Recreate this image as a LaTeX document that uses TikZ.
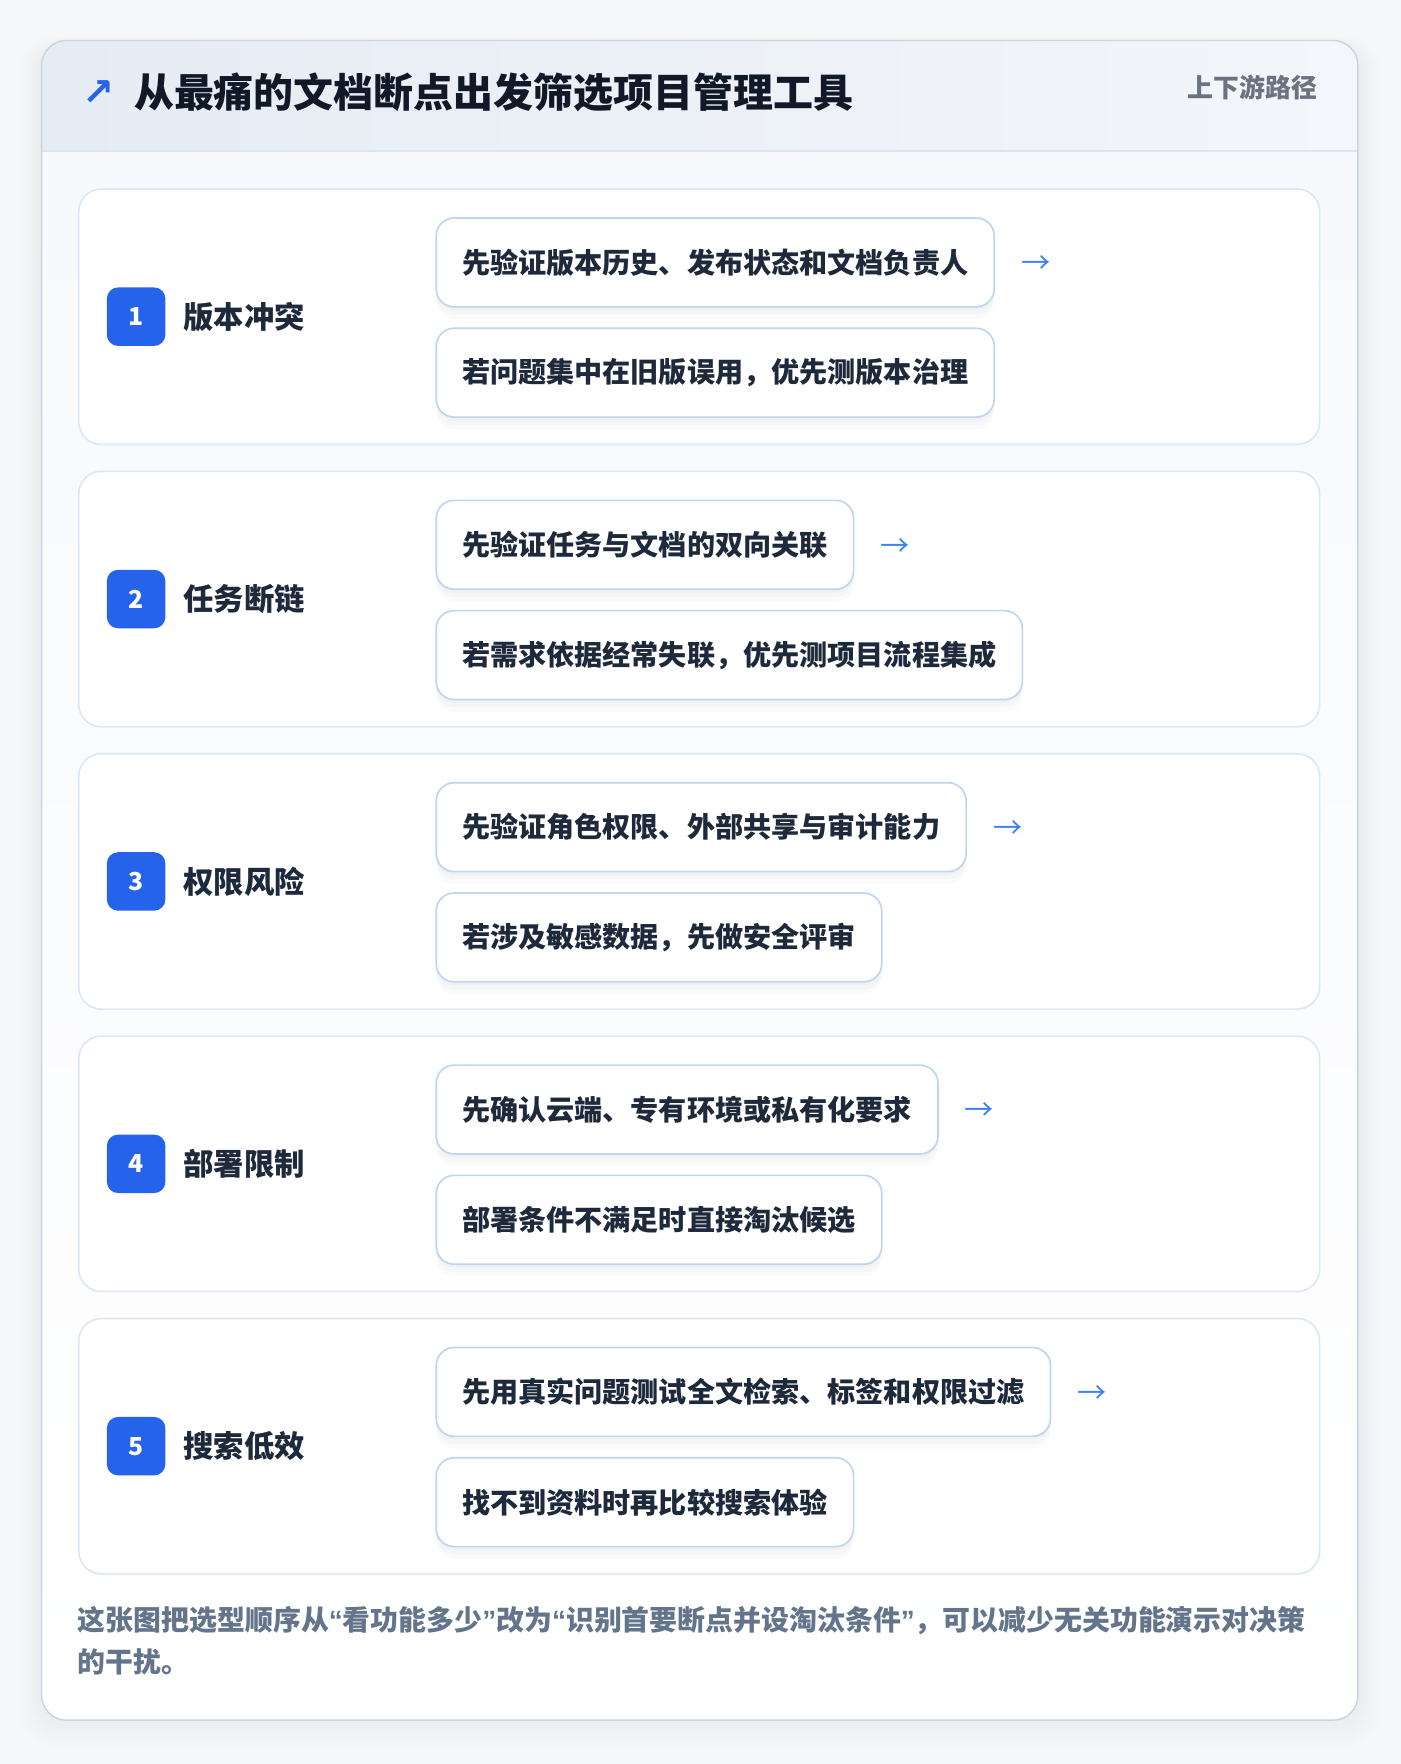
\documentclass[tikz,border=0pt]{standalone}
\usepackage{fontspec}
\setmainfont{Noto Sans CJK SC}
\newfontfamily\djv{DejaVu Sans}
\newfontfamily\lat{Liberation Sans}
\usetikzlibrary{shadows}
\definecolor{pagebg}{HTML}{F6F7F9}
\definecolor{cardline}{HTML}{CBD5E1}
\definecolor{headL}{HTML}{E6ECF4}
\definecolor{headR}{HTML}{F3F6FA}
\definecolor{headrule}{HTML}{DBE6F5}
\definecolor{bodytop}{HTML}{F7F9FC}
\definecolor{panelline}{HTML}{DCE8F8}
\definecolor{boxline}{HTML}{BFD5F3}
\definecolor{badgeblue}{HTML}{2563EB}
\definecolor{arrowblue}{HTML}{3B82F6}
\definecolor{titlecol}{HTML}{111827}
\definecolor{textcol}{HTML}{1E293B}
\definecolor{footcol}{HTML}{64748B}
\definecolor{tagcol}{HTML}{6B7280}
\newcommand{\myLq}{{\lat\bfseries “}}
\newcommand{\myRq}{{\lat\bfseries ”}}
\tikzset{
  badge/.style={fill=badgeblue, text=white, rounded corners=10pt, minimum width=52pt, minimum height=52pt, inner sep=0pt, font=\fontsize{22}{26}\selectfont\bfseries},
  lbl/.style={anchor=west, text=textcol, inner sep=0pt, font=\fontsize{27}{32}\selectfont\bfseries},
  stepbox/.style={anchor=north west, draw=boxline, line width=1.5pt, fill=white, rounded corners=16pt,
    minimum height=79pt, inner xsep=23pt, inner ysep=0pt, text=textcol, font=\fontsize{25}{30}\selectfont\bfseries,
    general shadow={shadow xshift=0pt, shadow yshift=-3pt, opacity=0.02, fill=black},
    general shadow={shadow xshift=0pt, shadow yshift=-7pt, opacity=0.02, fill=black},
    general shadow={shadow xshift=0pt, shadow yshift=-11pt, opacity=0.015, fill=black}},
  arr/.style={anchor=west, text=arrowblue, inner sep=0pt, font=\fontsize{26}{30}\selectfont},
  panel/.style={draw=panelline, line width=1.5pt, fill=white, rounded corners=20pt},
}
\begin{document}
\begin{tikzpicture}[x=1pt,y=-1pt]
\useasboundingbox (0,0) rectangle (1245,1568);
\fill[pagebg] (0,0) rectangle (1245,1568);
% card soft shadow
\foreach \k in {1,...,10}{
  \fill[black, opacity=0.005, rounded corners=22pt+\k pt] (37-2*\k,36-1*\k+6) rectangle (1207+2*\k,1529+2.5*\k);
}
% card
\fill[white, rounded corners=22pt] (37,36) rectangle (1207,1529);
\begin{scope}
  \clip[rounded corners=22pt] (37,36) rectangle (1207,1529);
  \shade[left color=headL, right color=headR] (37,36) rectangle (1207,134);
  \shade[top color=bodytop, bottom color=white] (37,134) rectangle (1207,1529);
\end{scope}
\draw[headrule, line width=2pt] (37,134) -- (1207,134);
\draw[cardline, line width=1.3pt, rounded corners=22pt] (37,36) rectangle (1207,1529);
% header
\node[text=badgeblue, inner sep=0pt, font=\djv\fontsize{34}{36}\selectfont\bfseries] (icon) at (88,83) {↗};
\node[anchor=west, text=titlecol, inner sep=0pt, font=\fontsize{35.5}{40}\selectfont\bfseries] (title) at (119,82) {从最痛的文档断点出发筛选项目管理工具};
\node[anchor=east, text=tagcol, inner sep=0pt, font=\fontsize{23}{26}\selectfont\bfseries] (tag) at (1171,78) {上下游路径};
% rows
\foreach \i/\lab/\ta/\tb in {
  1/版本冲突/先验证版本历史、发布状态和文档负责人/若问题集中在旧版误用，优先测版本治理,
  2/任务断链/先验证任务与文档的双向关联/若需求依据经常失联，优先测项目流程集成,
  3/权限风险/先验证角色权限、外部共享与审计能力/若涉及敏感数据，先做安全评审,
  4/部署限制/先确认云端、专有环境或私有化要求/部署条件不满足时直接淘汰候选,
  5/搜索低效/先用真实问题测试全文检索、标签和权限过滤/找不到资料时再比较搜索体验}{
  \pgfmathsetmacro{\top}{168+251*(\i-1)}
  \draw[panel] (70,\top) rectangle (1173,\top+227);
  \node[badge] (b\i) at (121,\top+113.5) {\i};
  \node[lbl] (l\i) at (163,\top+113.5) {\lab};
  \node[stepbox] (t\i) at (387,\top+25) {\ta};
  \node[stepbox] (s\i) at (387,\top+123) {\tb};
  \node[arr] (a\i) at ([xshift=23pt,yshift=-2pt]t\i.east) {→};
}
% footer
\node[anchor=north west, align=left, text=footcol, inner sep=0pt, font=\fontsize{24.8}{37}\selectfont\bfseries] (foot) at (69,1428) {这张图把选型顺序从\myLq 看功能多少\myRq 改为\myLq 识别首要断点并设淘汰条件\myRq ，可以减少无关功能演示对决策\\的干扰。};
\end{tikzpicture}
\end{document}
